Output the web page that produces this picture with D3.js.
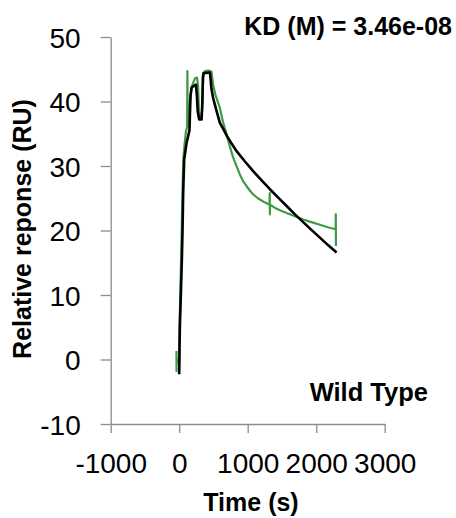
<!DOCTYPE html>
<html>
<head>
<meta charset="utf-8">
<script src="https://cdn.jsdelivr.net/npm/d3@7"></script>
<style>
  html, body { margin: 0; padding: 0; background: #fff; }
  svg { display: block; }
</style>
</head>
<body>
<script>
// Sensorgram: measured response (green) and kinetic fit (black)
const dataTime = [-40, -39, -38, -20, -5, 0, 5, 15, 28, 38, 48, 60, 80, 100, 116, 120, 124, 135, 160, 190, 230, 260, 275, 288, 300, 325, 338, 346, 356, 375, 430, 472, 496, 530, 594, 640, 692, 740, 788, 840, 885, 930, 982, 1030, 1080, 1150, 1226, 1318, 1322, 1324, 1326, 1400, 1480, 1568, 1690, 1810, 1930, 2054, 2170, 2284, 2286, 2288];
const dataResp = [1.3, -1.8, 0.2, -0.2, -0.5, -1.0, 5, 10, 15.5, 20.7, 26, 31, 33.5, 35.5, 36, 44.7, 36, 37.5, 40.5, 42.5, 43.6, 43.7, 42.5, 38.5, 37.5, 37.5, 39, 42.5, 44.3, 44.7, 44.8, 44.6, 42.5, 41, 39.0, 36.8, 34.9, 33.0, 31.3, 29.9, 28.7, 27.7, 26.9, 26.2, 25.6, 25.0, 24.5, 24.0, 25.8, 22.5, 24.0, 23.5, 23.1, 22.7, 22.2, 21.7, 21.3, 20.9, 20.5, 20.2, 22.5, 17.6];

const fitTime = [0, 5, 10, 25, 39, 50, 58, 73, 108, 150, 158, 166, 181, 244, 258, 270, 292, 327, 338, 346, 355, 448, 458, 470, 496, 546, 594, 650, 700, 770, 838, 960, 1080, 1200, 1324, 1446, 1568, 1690, 1810, 1930, 2054, 2176, 2298];
const fitResp = [-2.3, 2.0, 5.2, 10.3, 15.5, 20.7, 25.8, 31, 33.6, 35.5, 38.5, 41, 42.2, 42.6, 41, 38.5, 37.2, 37.2, 40, 43.8, 44.4, 44.5, 43.5, 42, 40.5, 38.5, 36.7, 35.6, 34.6, 33.4, 32.3, 30.7, 29.2, 27.8, 26.4, 25.1, 23.8, 22.5, 21.3, 20.1, 18.9, 17.7, 16.6];

const xTicks = [-1000, 0, 1000, 2000, 3000];
const yTicks = [-10, 0, 10, 20, 30, 40, 50];

const kdLabel = "KD (M) = 3.46e-08";
const sampleLabel = "Wild Type";
const xTitle = "Time (s)";
const yTitle = "Relative reponse (RU)";

const W = 456, H = 518;
const svg = d3.select("body").append("svg").attr("width", W).attr("height", H);

const x = d3.scaleLinear().domain([-1000, 3000]).range([110.7, 384.7]);
const y = d3.scaleLinear().domain([-10, 50]).range([424, 37]);

const axisColor = "#8c8c8c";
const tickFont = "'Liberation Sans', Arial, sans-serif";
const plainNum = d => String(d);

// x axis
const gx = svg.append("g").attr("transform", `translate(0,${y(-10)})`)
  .call(d3.axisBottom(x).tickValues(xTicks).tickSize(9).tickSizeOuter(0).tickFormat(plainNum));
gx.select(".domain").attr("stroke", axisColor).attr("stroke-width", 1.3);
gx.selectAll(".tick line").attr("stroke", axisColor).attr("stroke-width", 1.3);
gx.selectAll(".tick text")
  .attr("y", 29).attr("dy", "0.71em")
  .attr("fill", "#000").style("font-family", tickFont).style("font-size", "28px");

// y axis
const gy = svg.append("g").attr("transform", `translate(${x(-1000)},0)`)
  .call(d3.axisLeft(y).tickValues(yTicks).tickSize(10).tickSizeOuter(0).tickFormat(plainNum));
gy.select(".domain").attr("stroke", axisColor).attr("stroke-width", 1.3);
gy.selectAll(".tick line").attr("stroke", axisColor).attr("stroke-width", 1.3);
gy.selectAll(".tick text")
  .attr("x", -30).attr("dy", "0.36em")
  .attr("fill", "#000").style("font-family", tickFont).style("font-size", "28px");

const line = d3.line().x(d => x(d[0])).y(d => y(d[1]));

// measured response
svg.append("path")
  .datum(d3.zip(dataTime, dataResp))
  .attr("fill", "none").attr("stroke", "#3f9a45").attr("stroke-width", 2.2)
  .attr("stroke-linejoin", "round")
  .attr("d", line);

// fitted curve
svg.append("path")
  .datum(d3.zip(fitTime, fitResp))
  .attr("fill", "none").attr("stroke", "#000").attr("stroke-width", 2.6)
  .attr("stroke-linejoin", "round")
  .attr("d", line);

const boldFont = "'Liberation Sans', Arial, sans-serif";

svg.append("text").attr("x", 452).attr("y", 35).attr("text-anchor", "end")
  .style("font-family", boldFont).style("font-weight", "bold").style("font-size", "25px")
  .text(kdLabel);

svg.append("text").attr("x", 428).attr("y", 401).attr("text-anchor", "end")
  .style("font-family", boldFont).style("font-weight", "bold").style("font-size", "25.5px")
  .text(sampleLabel);

svg.append("text").attr("x", 251).attr("y", 511).attr("text-anchor", "middle")
  .style("font-family", boldFont).style("font-weight", "bold").style("font-size", "25px")
  .text(xTitle);

svg.append("text").attr("transform", "translate(31,229) rotate(-90)").attr("text-anchor", "middle")
  .style("font-family", boldFont).style("font-weight", "bold").style("font-size", "25px")
  .text(yTitle);
</script>
</body>
</html>
